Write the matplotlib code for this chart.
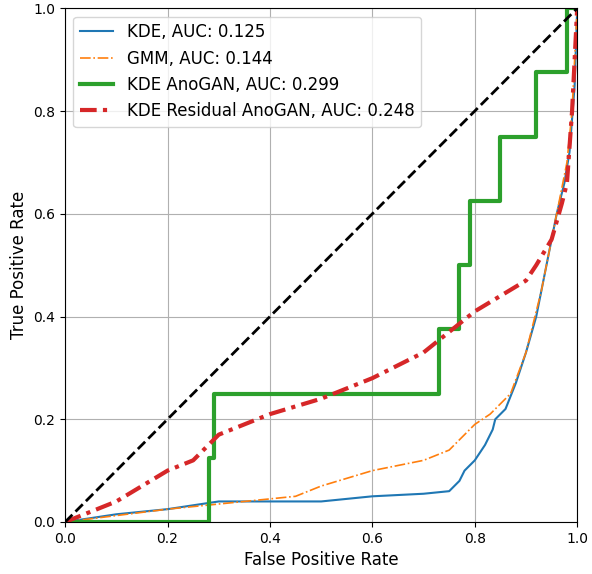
import matplotlib
matplotlib.use("Agg")
import matplotlib.pyplot as plt

kde_x = [0,0.1,0.2,0.3,0.5,0.6,0.7,0.75,0.77,0.78,0.8,0.82,0.835,0.84,0.86,0.88,0.9,0.92,0.94,0.96,0.975,0.985,0.995,1]
kde_y = [0,0.015,0.025,0.04,0.04,0.05,0.055,0.06,0.08,0.1,0.12,0.15,0.18,0.2,0.22,0.27,0.33,0.4,0.5,0.6,0.66,0.72,0.85,1]
gmm_x = [0,0.2,0.4,0.45,0.5,0.6,0.7,0.75,0.78,0.8,0.83,0.87,0.9,0.93,0.96,0.98,0.99,1]
gmm_y = [0,0.025,0.045,0.05,0.07,0.1,0.12,0.14,0.17,0.19,0.21,0.25,0.33,0.45,0.6,0.7,0.8,1]
ano_x = [0,0.28,0.28,0.29,0.29,0.73,0.73,0.77,0.77,0.79,0.79,0.85,0.85,0.92,0.92,0.98,0.98,1]
ano_y = [0,0,0.125,0.125,0.25,0.25,0.375,0.375,0.5,0.5,0.625,0.625,0.75,0.75,0.875,0.875,1,1]
res_x = [0,0.05,0.1,0.15,0.2,0.25,0.3,0.4,0.5,0.6,0.7,0.75,0.8,0.85,0.9,0.92,0.95,0.97,0.98,0.99,1]
res_y = [0,0.02,0.04,0.07,0.1,0.12,0.17,0.21,0.24,0.28,0.33,0.37,0.41,0.44,0.47,0.5,0.55,0.62,0.66,0.8,1]

fig = plt.figure(figsize=(5.92,5.74), dpi=100)
ax = fig.add_axes([0.11,0.0906,0.865,0.895])
ax.plot(kde_x, kde_y, color='#1f77b4', lw=1.5, label='KDE, AUC: 0.125')
ax.plot(gmm_x, gmm_y, color='#ff7f0e', lw=1.2, ls='-.', label='GMM, AUC: 0.144')
ax.plot(ano_x, ano_y, color='#2ca02c', lw=3, label='KDE AnoGAN, AUC: 0.299')
ax.plot(res_x, res_y, color='#d62728', lw=3, ls='-.', dashes=(4, 1.5, 1, 1.5), label='KDE Residual AnoGAN, AUC: 0.248')
ax.plot([0,1],[0,1],'k--', lw=2)
ax.set_xlim(0,1); ax.set_ylim(0,1)
ax.grid(True)
ax.set_xlabel('False Positive Rate', fontsize=12)
ax.set_ylabel('True Positive Rate', fontsize=12)
ax.legend(loc='upper left', fontsize=12)
fig.savefig('out.png')
